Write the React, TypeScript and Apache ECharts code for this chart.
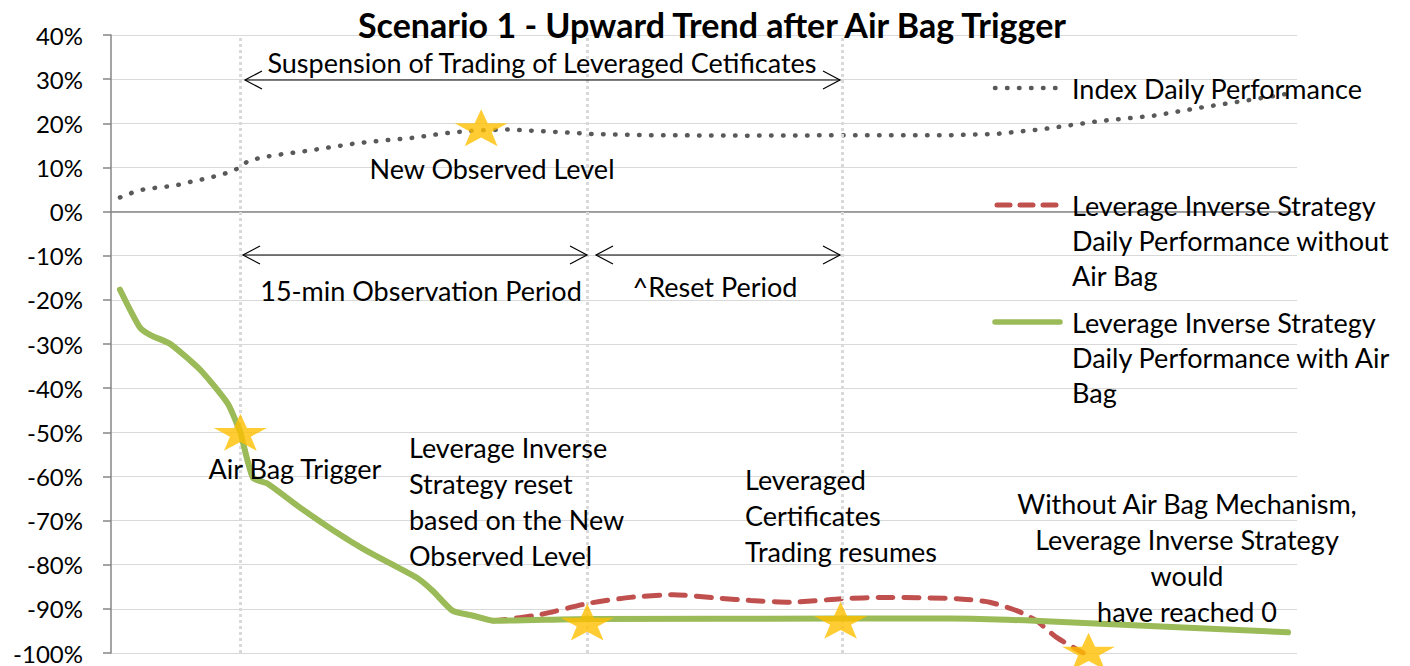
import React, { useEffect, useRef } from "react";
import * as echarts from "echarts";

// x = time step (0..66), y = daily performance in %
const xRange = [0, 66];
const yTicks = { min: -100, max: 40, step: 10 };

const indexPerf: [number, number][] = [
  [0.5, 3.2], [1.2, 4.3], [1.8, 5.0], [2.5, 5.4], [3.2, 5.7], [3.8, 6.1], [4.5, 6.8],
  [5.2, 7.4], [5.8, 8.0], [6.5, 8.8], [7.2, 10.0], [7.6, 11.4], [8.4, 12.3], [9.7, 13.1],
  [11.0, 13.8], [12.4, 14.7], [13.7, 15.5], [15.1, 16.1], [16.6, 16.6], [18.5, 17.7],
  [20.0, 18.3], [22.0, 18.6], [24.0, 18.2], [26.7, 17.6], [30.0, 17.3], [35.6, 17.2],
  [41.0, 17.3], [46.7, 17.3], [49.3, 17.6], [51.9, 18.7], [55.0, 20.5], [58.0, 21.7],
  [60.7, 23.6], [63.4, 25.3], [65.5, 26.7],
];

const commonDecline: [number, number][] = [
  [0.5, -17.7], [1.6, -26.2], [2.2, -28.0], [3.3, -30.0], [5.0, -36.0], [6.5, -43.5],
  [7.0, -48.0], [7.2, -50.0], [7.9, -60.3], [8.7, -61.6], [10.5, -67.0], [12.4, -72.3],
  [14.2, -76.8], [17.0, -82.9], [17.9, -85.9], [19.0, -90.4], [20.1, -91.5], [21.3, -92.7],
];

const withoutAirBagTail: [number, number][] = [
  [21.6, -92.6], [23.9, -91.3], [26.5, -88.8], [28.9, -87.4], [31.3, -86.8], [33.9, -87.6],
  [35.6, -88.1], [37.8, -88.5], [40.7, -87.7], [43.0, -87.4], [47.1, -87.7], [48.9, -88.5],
  [50.4, -90.4], [51.5, -92.7], [52.6, -96.4], [54.1, -100.0],
];

const withAirBagTail: [number, number][] = [
  [26.5, -92.3], [40.7, -92.2], [46.7, -92.2], [51.4, -92.7], [65.5, -95.3],
];

const eventX = { trigger: 7.2, reset: 26.5, resume: 40.7 };

const stars: [number, number][] = [
  [20.6, 19.0], [7.2, -50.0], [26.5, -93.0], [40.6, -92.6], [54.4, -99.6],
];

const seriesNames = [
  "Index Daily Performance",
  "Leverage Inverse Strategy\nDaily Performance without\nAir Bag",
  "Leverage Inverse Strategy\nDaily Performance with Air\nBag",
];

const STAR =
  "path://M50,0 L61.8,34.5 L97.6,34.5 L68.8,55.9 L79.4,90.5 L50,69.1 L20.6,90.5 L31.2,55.9 L2.4,34.5 L38.2,34.5 Z";

const FONT = "Lato, 'Open Sans', sans-serif";
const FS = 27;

function arrow(x1: number, x2: number, y: number): any[] {
  const hl = 17, hh = 9;
  const st = { stroke: "#000", lineWidth: 1.2, fill: "none" };
  return [
    { type: "line", shape: { x1, y1: y, x2, y2: y }, style: st, z: 50 },
    { type: "polyline", shape: { points: [[x1 + hl, y - hh], [x1, y], [x1 + hl, y + hh]] }, style: st, z: 50 },
    { type: "polyline", shape: { points: [[x2 - hl, y - hh], [x2, y], [x2 - hl, y + hh]] }, style: st, z: 50 },
  ];
}

function txt(text: string, x: number, y: number, align: string, lineHeight = 36, vAlign = "middle"): any {
  return {
    type: "text",
    x,
    y,
    z: 60,
    style: {
      text,
      fill: "#000",
      font: `${FS}px ${FONT}`,
      fontSize: FS,
      fontFamily: FONT,
      align,
      verticalAlign: vAlign,
      lineHeight,
    },
  };
}

export default function App() {
  const ref = useRef<HTMLDivElement>(null);
  useEffect(() => {
    document.body.style.margin = "0";
    if (!ref.current) return;
    const chart = echarts.init(ref.current, null, { renderer: "svg" });
    const legendX1 = 995, legendX2 = 1060, legendTx = 1072;
    const legendGraphics: any[] = [
      { type: "line", shape: { x1: legendX1, y1: 88, x2: legendX2, y2: 88 }, style: { stroke: "#595959", lineWidth: 4.5, lineDash: [0.5, 11.5], lineCap: "round" }, z: 50 },
      txt(seriesNames[0], legendTx, 88, "left"),
      { type: "line", shape: { x1: legendX1 + 2, y1: 205, x2: legendX2, y2: 205 }, style: { stroke: "#C0504D", lineWidth: 5, lineDash: [13, 10], lineCap: "round" }, z: 50 },
      txt(seriesNames[1], legendTx, 205 - 17.5, "left", 35, "top"),
      { type: "line", shape: { x1: legendX1, y1: 322, x2: legendX2, y2: 322 }, style: { stroke: "#9BBB59", lineWidth: 5.5, lineCap: "round" }, z: 50 },
      txt(seriesNames[2], legendTx, 322 - 17.5, "left", 35, "top"),
    ];
    const annotations: any[] = [
      txt("Suspension of Trading of Leveraged Cetificates", 542, 62, "center", 32),
      ...arrow(245, 840, 80),
      txt("New Observed Level", 492, 168, "center"),
      ...arrow(243, 587, 255),
      ...arrow(596, 840, 255),
      txt("15-min Observation Period", 421, 290, "center"),
      txt("^Reset Period", 715, 286, "center"),
      txt("Air Bag Trigger", 295, 468, "center"),
      txt("Leverage Inverse\nStrategy reset\nbased on the New\nObserved Level", 409, 429, "left", 36, "top"),
      txt("Leveraged\nCertificates\nTrading resumes", 745, 461, "left", 36, "top"),
      txt("Without Air Bag Mechanism,\nLeverage Inverse Strategy\nwould\nhave reached 0", 1187, 485, "center", 36, "top"),
    ];
    chart.setOption({
      animation: false,
      backgroundColor: "#fff",
      title: {
        text: "Scenario 1 - Upward Trend after Air Bag Trigger",
        left: 712,
        top: 6,
        padding: 0,
        textAlign: "center",
        textStyle: { fontFamily: FONT, fontSize: 34, fontWeight: "bold", color: "#000", lineHeight: 36 },
      },
      grid: { left: 111, right: 113, top: 35, bottom: 13, containLabel: false },
      xAxis: {
        type: "value",
        min: xRange[0],
        max: xRange[1],
        axisLine: { show: true, onZero: true, lineStyle: { color: "#868686", width: 1.5 } },
        axisTick: { show: false },
        axisLabel: { show: false },
        splitLine: { show: false },
      },
      yAxis: {
        type: "value",
        min: yTicks.min,
        max: yTicks.max,
        interval: yTicks.step,
        axisLine: { show: true, onZero: false, lineStyle: { color: "#868686", width: 1.5 } },
        axisTick: { show: true, length: 8, lineStyle: { color: "#868686", width: 1.5 } },
        axisLabel: { formatter: "{value}%", fontSize: 24, lineHeight: 20, color: "#000", margin: 28, fontFamily: FONT },
        splitLine: { show: true, lineStyle: { color: "#d9d9d9", width: 1 } },
      },
      series: [
        {
          type: "line",
          name: "events",
          data: [],
          z: 1,
          silent: true,
          markLine: {
            silent: true,
            symbol: "none",
            label: { show: false },
            lineStyle: { color: "#d9d9d9", width: 3, type: [3, 3] },
            data: [{ xAxis: eventX.trigger }, { xAxis: eventX.reset }, { xAxis: eventX.resume }],
          },
        },
        {
          type: "line",
          name: seriesNames[0],
          data: indexPerf,
          symbol: "none",
          z: 3,
          lineStyle: { color: "#595959", width: 4.5, type: [0.5, 11.5], cap: "round" },
        },
        {
          type: "line",
          name: seriesNames[1],
          data: [...commonDecline, ...withoutAirBagTail],
          symbol: "none",
          smooth: 0.2,
          z: 4,
          lineStyle: { color: "#C0504D", width: 5, type: [15, 11], cap: "round" },
        },
        {
          type: "line",
          name: seriesNames[2],
          data: [...commonDecline, ...withAirBagTail],
          symbol: "none",
          smooth: 0.2,
          z: 5,
          lineStyle: { color: "#9BBB59", width: 6, cap: "round", join: "round" },
        },
        {
          type: "scatter",
          name: "Events",
          data: stars,
          symbol: STAR,
          symbolSize: [53, 37],
          itemStyle: { color: "#FFC000" },
          z: 10,
        },
      ],
      graphic: [...legendGraphics, ...annotations],
    });
    return () => chart.dispose();
  }, []);
  return <div ref={ref} style={{ width: 1410, height: 666 }} />;
}
